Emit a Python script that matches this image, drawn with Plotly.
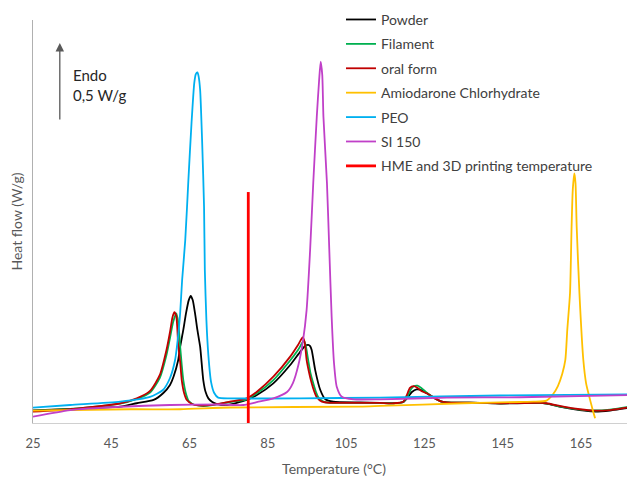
import plotly.graph_objects as go

# ---------------- data (temperature in °C, heat flow in W/g, arbitrary offset) ----------------
powder_t = [25, 34.5, 47.3, 51.5, 55.8, 58.3, 60.0, 60.9, 62.1, 62.6,
            63.4, 64.1, 64.8, 65.3, 65.8, 66.4, 67.0, 67.7, 68.5, 69.1,
            69.8, 70.8, 72.0, 74.5, 79.6, 82.2, 86.4, 90.7, 93.2, 94.5,
            95.3, 95.8, 96.2, 97.1, 98.4, 99.7, 101.7, 108.6, 113.7, 117.1,
            119.6, 120.8, 121.8, 123.0, 124.2, 125.6, 127.7, 129.4, 130.7, 139.2,
            144.3, 154.5, 156.2, 160.5, 164.7, 168.2, 172.4, 176.7, 178.8]
powder_hf = [0.079, 0.089, 0.103, 0.125, 0.146, 0.190, 0.241, 0.293, 0.399, 0.483,
             0.589, 0.696, 0.778, 0.804, 0.778, 0.694, 0.589, 0.483, 0.272, 0.196,
             0.156, 0.133, 0.120, 0.114, 0.146, 0.177, 0.251, 0.367, 0.449, 0.487,
             0.494, 0.487, 0.462, 0.335, 0.209, 0.150, 0.135, 0.130, 0.127, 0.125,
             0.133, 0.165, 0.196, 0.213, 0.209, 0.188, 0.156, 0.135, 0.131, 0.127,
             0.123, 0.127, 0.122, 0.099, 0.082, 0.073, 0.079, 0.095, 0.101]

filament_t = [25, 34.5, 47.3, 51.5, 54.9, 57.4, 59.1, 60.0, 60.8, 61.6,
              62.1, 62.6, 63.0, 63.4, 64.1, 64.8, 66.4, 69.4, 75.3, 79.6,
              82.2, 86.4, 90.7, 92.7, 94.2, 94.7, 95.3, 95.9, 96.6, 97.3,
              97.9, 99.2, 100.8, 108.6, 113.7, 117.1, 119.6, 120.7, 121.6, 122.4,
              123.2, 124.2, 125.8, 127.7, 129.4, 130.7, 139.2, 144.3, 154.5, 156.2,
              160.5, 164.7, 168.2, 172.4, 176.7, 178.8]
filament_hf = [0.076, 0.089, 0.122, 0.152, 0.193, 0.285, 0.430, 0.538, 0.639, 0.694,
               0.639, 0.483, 0.367, 0.272, 0.184, 0.139, 0.114, 0.108, 0.133, 0.150,
               0.188, 0.272, 0.396, 0.462, 0.521, 0.487, 0.399, 0.316, 0.251, 0.196,
               0.163, 0.135, 0.128, 0.128, 0.127, 0.125, 0.133, 0.171, 0.215, 0.234,
               0.236, 0.222, 0.188, 0.156, 0.135, 0.131, 0.128, 0.125, 0.128, 0.123,
               0.101, 0.085, 0.079, 0.085, 0.101, 0.108]

oral_t = [25, 34.5, 47.3, 51.5, 54.9, 57.4, 59.1, 60.0, 60.6, 61.1,
          61.6, 62.1, 62.6, 63.0, 63.6, 64.3, 65.9, 69.4, 75.3, 79.6,
          82.2, 86.4, 90.7, 92.7, 93.9, 94.4, 94.9, 95.5, 96.2, 96.8,
          97.5, 98.8, 100.8, 108.6, 113.7, 117.1, 119.6, 120.5, 121.3, 122.2,
          123.1, 124.2, 125.6, 127.7, 129.4, 130.7, 139.2, 144.3, 154.5, 156.2,
          160.5, 164.7, 168.2, 172.4, 176.7, 178.8]
oral_hf = [0.072, 0.087, 0.125, 0.156, 0.203, 0.304, 0.462, 0.576, 0.665, 0.701,
           0.677, 0.494, 0.386, 0.272, 0.190, 0.146, 0.117, 0.111, 0.135, 0.156,
           0.198, 0.293, 0.420, 0.494, 0.542, 0.513, 0.399, 0.323, 0.251, 0.203,
           0.163, 0.135, 0.128, 0.128, 0.127, 0.125, 0.135, 0.177, 0.222, 0.234,
           0.225, 0.203, 0.188, 0.156, 0.135, 0.131, 0.128, 0.125, 0.128, 0.125,
           0.103, 0.087, 0.078, 0.082, 0.097, 0.103]

amio_t = [25, 49.8, 62.6, 75.3, 108.6, 113.7, 134.9, 149.4, 152.9, 156.2,
          157.9, 159.1, 160.2, 161.0, 161.5, 162.2, 162.6, 162.9, 163.3, 163.6,
          163.9, 164.6, 165.6, 166.3, 166.9, 168.0, 168.6]
amio_hf = [0.078, 0.087, 0.087, 0.098, 0.104, 0.108, 0.125, 0.133, 0.135, 0.142,
           0.184, 0.234, 0.310, 0.399, 0.589, 0.823, 1.242, 1.475, 1.580, 1.519,
           1.242, 0.823, 0.399, 0.253, 0.188, 0.082, 0.030]

peo_t = [25, 34.5, 47.3, 54.9, 58.2, 60.0, 61.3, 62.1, 62.6, 63.1,
         63.9, 64.7, 65.5, 66.2, 66.6, 67.0, 67.3, 67.7, 68.2, 68.7,
         68.9, 69.3, 69.8, 70.5, 71.3, 72.3, 75.3, 93.2, 113.7, 144.3, 178.8]
peo_hf = [0.097, 0.114, 0.135, 0.165, 0.209, 0.285, 0.399, 0.557, 0.696, 0.905,
          1.158, 1.538, 1.899, 2.152, 2.209, 2.220, 2.196, 2.108, 1.791, 1.367,
          0.968, 0.652, 0.430, 0.259, 0.190, 0.161, 0.156, 0.156, 0.161, 0.174, 0.182]

si150_t = [25, 34.5, 47.3, 60.0, 72.8, 78.7, 82.4, 86.4, 89.9, 91.4,
           92.8, 94.0, 94.9, 95.8, 96.6, 97.5, 98.1, 98.5, 98.9, 99.2,
           100.1, 100.7, 101.3, 101.9, 102.6, 103.9, 106.9, 113.7, 130.7, 149.4, 178.8]
si150_hf = [0.040, 0.082, 0.103, 0.114, 0.117, 0.114, 0.133, 0.156, 0.196, 0.253,
            0.367, 0.525, 0.715, 1.095, 1.519, 1.939, 2.171, 2.287, 2.203, 1.939,
            1.519, 1.095, 0.673, 0.380, 0.230, 0.166, 0.150, 0.150, 0.160, 0.163, 0.177]

hme_t = [80, 80]
hme_hf = [0.0, 1.462]

x_ticks = [25, 45, 65, 85, 105, 125, 145, 165]

series = [
    ("Powder", powder_t, powder_hf, "#000000", 1.8),
    ("Filament", filament_t, filament_hf, "#00B050", 1.8),
    ("oral form", oral_t, oral_hf, "#C00000", 1.8),
    ("Amiodarone Chlorhydrate", amio_t, amio_hf, "#FFC000", 1.8),
    ("PEO", peo_t, peo_hf, "#00B0F0", 1.8),
    ("SI 150", si150_t, si150_hf, "#C040C8", 1.8),
]

FONT = "Lato"
fig = go.Figure()
for i, (name, xs, ys, col, w) in enumerate(series):
    fig.add_trace(go.Scatter(
        x=xs, y=ys, name=name, mode="lines", legendgroup=f"g{i}",
        line=dict(color=col, width=w, shape="spline", smoothing=0.6),
    ))
fig.add_trace(go.Scatter(
    x=hme_t, y=hme_hf, name="HME and 3D printing temperature", mode="lines",
    legendgroup="g6", line=dict(color="#FF0000", width=2.8),
))

fig.add_annotation(x=31.85, y=2.405, ax=31.85, ay=1.911, xref="x", yref="y",
                   axref="x", ayref="y", text="", showarrow=True,
                   arrowhead=2, arrowsize=1.3, arrowwidth=1.3, arrowcolor="#595959")
fig.add_annotation(x=34.6, y=2.142, xref="x", yref="y", text="Endo<br>0,5 W/g",
                   showarrow=False, xanchor="left", yanchor="middle", align="left",
                   font=dict(family=FONT, size=15, color="#262626"))

fig.update_layout(
    width=627, height=469,
    margin=dict(l=25, r=0, t=12, b=54, autoexpand=False),
    paper_bgcolor="white", plot_bgcolor="white",
    font=dict(family=FONT, color="#595959", size=13),
    showlegend=True,
    legend=dict(x=0.5116, y=1.04, xanchor="left", yanchor="top",
                bgcolor="rgba(0,0,0,0)", tracegroupgap=3.2,
                font=dict(family=FONT, size=14, color="#404040")),
    xaxis=dict(range=[25, 178.8], tickvals=x_ticks, ticktext=[str(v) for v in x_ticks],
               showgrid=False, zeroline=False, showline=True, linecolor="#D0D0D0",
               linewidth=1.2, ticks="", automargin=False, ticklabelstandoff=8,
               tickfont=dict(size=13, color="#595959"),
               title=dict(text="Temperature (°C)", font=dict(size=14, color="#595959"),
                          standoff=20)),
    yaxis=dict(range=[0, 2.551], showticklabels=False, showgrid=False, zeroline=False,
               showline=True, linecolor="#B0B0B0", linewidth=1.2, ticks="",
               automargin=False,
               title=dict(text="Heat flow (W/g)", font=dict(size=14, color="#595959"),
                          standoff=8)),
)

fig.write_html("out.html")
